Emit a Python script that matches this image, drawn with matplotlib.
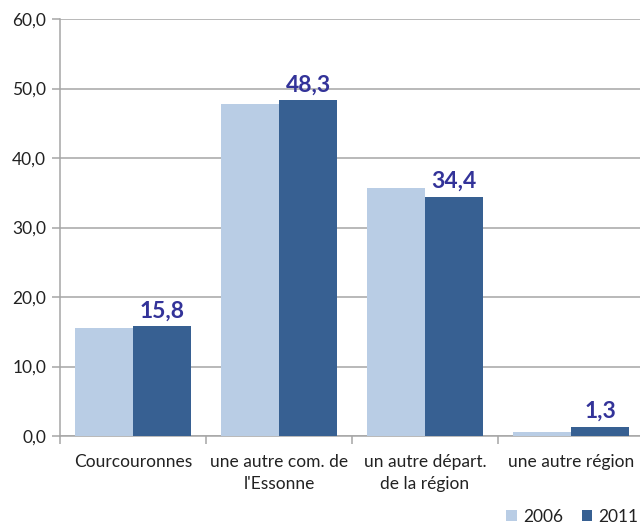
import matplotlib
matplotlib.use("Agg")
import matplotlib.pyplot as plt
import numpy as np

categories = ["Courcouronnes", "une autre com. de\nl'Essonne", "un autre départ.\nde la région", "une autre région"]
values_2006 = [15.6, 47.7, 35.7, 0.6]
values_2011 = [15.8, 48.3, 34.4, 1.3]
series_labels = ["2006", "2011"]
y_ticks = [0, 10, 20, 30, 40, 50, 60]

plt.rcParams["font.family"] = ["Lato", "DejaVu Sans"]

fig = plt.figure(figsize=(6.4, 5.29), dpi=100)
W, H = 640, 529
ax = fig.add_axes([60 / W, (H - 436) / H, 584 / W, (436 - 19) / H])

x = np.arange(len(categories))
bw = 0.4
c2006 = "#B9CDE5"
c2011 = "#376092"
ax.bar(x - bw / 2, values_2006, bw, color=c2006, label=series_labels[0], zorder=3)
ax.bar(x + bw / 2, values_2011, bw, color=c2011, label=series_labels[1], zorder=3)

for xi, v in zip(x + bw / 2, values_2011):
    ax.text(xi, v + 0.7, f"{v:.1f}".replace(".", ","), ha="center", va="bottom",
            fontsize=16.5, fontweight="bold", color="#333399", zorder=4)

ax.set_xlim(-0.5, len(categories) - 0.5)
ax.set_ylim(0, 60)
ax.set_yticks(y_ticks)
ax.set_yticklabels([f"{t:.1f}".replace(".", ",") for t in y_ticks], fontsize=12.5, color="#222222")
ax.yaxis.grid(True, color="#A6A6A6", linewidth=1.1, zorder=0)
ax.tick_params(axis="y", length=6, color="#A6A6A6", width=1.1, pad=4)

ax.set_xticks(x)
ax.set_xticklabels(categories, fontsize=12.5, color="#222222", linespacing=1.45)
ax.tick_params(axis="x", length=0, pad=13)
ax.set_xticks(np.arange(-0.5, len(categories), 1.0), minor=True)
ax.tick_params(axis="x", which="minor", length=6, color="#A6A6A6", width=1.1)

for s in ["top", "right"]:
    ax.spines[s].set_visible(False)
for s in ["left", "bottom"]:
    ax.spines[s].set_color("#A6A6A6")
    ax.spines[s].set_linewidth(1.1)

fig.legend(loc="lower right", bbox_to_anchor=(1.022, -0.022), ncol=2, frameon=False,
           fontsize=12.5, handlelength=0.6, handleheight=0.6, handletextpad=0.35,
           columnspacing=1.1, labelcolor="#222222")

fig.savefig("out.png", dpi=100)
